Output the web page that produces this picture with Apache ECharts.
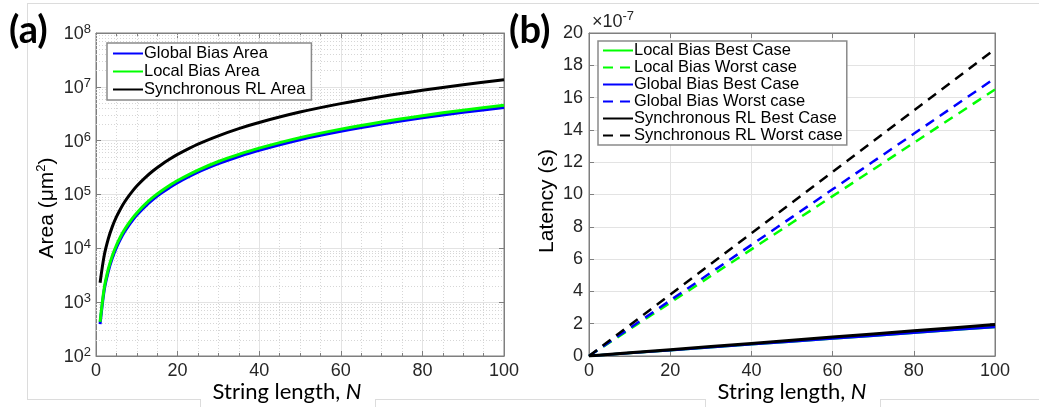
<!DOCTYPE html>
<html>
<head>
<meta charset="utf-8">
<script src="https://cdn.jsdelivr.net/npm/echarts@6/dist/echarts.min.js"></script>
<style>
html,body{margin:0;padding:0;background:#fff;}
#c{width:1039px;height:407px;}
</style>
</head>
<body>
<div id="c"></div>
<script>
// ---------- Panel (a): Area vs string length (log scale) ----------
const areaN = [1,2,3,4,5,6,7,8,9,10,12,14,16,18,20,25,30,35,40,50,60,70,80,90,100];
const globalBiasArea = [390,1650,3700,6600,10300,14900,20300,26500,33600,41500,59700,81300,106000,134000,166000,259000,373000,508000,664000,1040000,1490000,2030000,2660000,3360000,4150000];
const localBiasArea = [430,1800,4100,7300,11400,16400,22300,29100,36900,45500,65500,89200,116000,147000,182000,284000,410000,557000,728000,1140000,1640000,2230000,2910000,3690000,4550000];
const syncRLArea = [2300,7280,14900,25300,38300,54000,72400,93400,117000,144000,204000,276000,358000,451000,555000,861000,1230000,1675000,2180000,3400000,4880000,6630000,8650000,10940000,13500000];

// ---------- Panel (b): Latency (units of 1e-7 s) ----------
const latN = [0,10,20,30,40,50,60,70,80,90,100];
const localBest   = [0,0.18,0.36,0.54,0.72,0.90,1.08,1.26,1.44,1.62,1.80];
const localWorst  = [0,1.65,3.30,4.95,6.60,8.25,9.90,11.55,13.20,14.85,16.50];
const globalBest  = [0,0.18,0.36,0.54,0.72,0.90,1.08,1.26,1.44,1.62,1.80];
const globalWorst = [0,1.72,3.44,5.16,6.88,8.60,10.32,12.04,13.76,15.48,17.20];
const syncBest    = [0,0.195,0.39,0.585,0.78,0.975,1.17,1.365,1.56,1.755,1.95];
const syncWorst   = [0,1.90,3.80,5.70,7.60,9.50,11.40,13.30,15.20,17.10,19.00];

const legendA = ['Global Bias Area','Local Bias Area','Synchronous RL Area'];
const legendB = ['Local Bias Best Case','Local Bias Worst case','Global Bias Best Case','Global Bias Worst case','Synchronous RL Best Case','Synchronous RL Worst case'];

const zip = (xs, ys) => xs.map((x, i) => [x, ys[i]]);

// minor log grid values (2..9 x 10^k)
const minorLog = [];
for (let e = 2; e < 8; e++) for (let k = 2; k <= 9; k++) minorLog.push(k * Math.pow(10, e));

const TXT = '#262626';
const AX = '#7f7f7f';
const GRID = '#e3e3e3';
const SANS = 'Liberation Sans, Arial, sans-serif';
const TITLEF = 'Lato, Carlito, Calibri, sans-serif';

const chart = echarts.init(document.getElementById('c'), null, {renderer: 'canvas'});

function axisBase(extra) {
  return Object.assign({
    axisLine: {show: true, onZero: false, lineStyle: {color: AX, width: 1}},
    axisTick: {show: true, inside: true, length: 5, lineStyle: {color: AX}},
    axisLabel: {color: TXT, fontFamily: SANS, fontSize: 18},
  }, extra);
}

const option = {
  animation: false,
  backgroundColor: '#fff',
  grid: [
    {left: 96, top: 33, width: 408, height: 323, show: true, borderColor: AX, borderWidth: 1, backgroundColor: '#fff'},
    {left: 589, top: 33, width: 406, height: 323, show: true, borderColor: AX, borderWidth: 1, backgroundColor: '#fff'}
  ],
  xAxis: [
    axisBase({gridIndex: 0, type: 'value', min: 0, max: 100, interval: 20,
      axisLabel: {color: TXT, fontFamily: SANS, fontSize: 18, margin: 6},
      splitLine: {show: true, lineStyle: {color: GRID, width: 1}},
      minorTick: {show: true, splitNumber: 4, length: 3, lineStyle: {color: AX}},
      minorSplitLine: {show: true, lineStyle: {color: '#d6d6d6', type: [1, 2], width: 1}}}),
    axisBase({gridIndex: 1, type: 'value', min: 0, max: 100, interval: 20,
      axisLabel: {color: TXT, fontFamily: SANS, fontSize: 18, margin: 6},
      splitLine: {show: true, lineStyle: {color: GRID, width: 1}}}),
    axisBase({gridIndex: 0, type: 'value', position: 'top', min: 0, max: 100, interval: 20,
      axisLabel: {show: false}, splitLine: {show: false},
      minorTick: {show: true, splitNumber: 4, length: 3, lineStyle: {color: AX}}}),
    axisBase({gridIndex: 1, type: 'value', position: 'top', min: 0, max: 100, interval: 20,
      axisLabel: {show: false}, splitLine: {show: false}})
  ],
  yAxis: [
    axisBase({gridIndex: 0, type: 'log', logBase: 10, min: 100, max: 1e8, splitNumber: 6, interval: 1,
      axisLabel: {
        margin: 5,
        formatter: v => '{b|10}{s|' + Math.round(Math.log10(v)) + '}',
        rich: {
          b: {fontFamily: SANS, fontSize: 18, color: TXT, verticalAlign: 'bottom', lineHeight: 20},
          s: {fontFamily: SANS, fontSize: 13, color: TXT, verticalAlign: 'top', lineHeight: 20, padding: [0, 0, 10, 0]}
        }
      },
      splitLine: {show: true, lineStyle: {color: GRID, width: 1}}}),
    axisBase({gridIndex: 1, type: 'value', min: 0, max: 20, interval: 2,
      axisLabel: {color: TXT, fontFamily: SANS, fontSize: 18, margin: 6},
      splitLine: {show: true, lineStyle: {color: GRID, width: 1}}}),
    axisBase({gridIndex: 0, type: 'log', logBase: 10, min: 100, max: 1e8, splitNumber: 6, interval: 1, position: 'right',
      axisLabel: {show: false}, splitLine: {show: false}}),
    axisBase({gridIndex: 1, type: 'value', min: 0, max: 20, interval: 2, position: 'right',
      axisLabel: {show: false}, splitLine: {show: false}})
  ],
  legend: [
    {data: legendA, orient: 'vertical', left: 107, top: 43, itemWidth: 30, itemHeight: 14, itemGap: 1, z: 10,
      backgroundColor: '#fff', borderColor: '#8a8a8a', borderWidth: 1.5, borderRadius: 0, padding: [2, 6, 2, 5],
      textStyle: {fontFamily: SANS, fontSize: 16.5, lineHeight: 16, color: '#000', padding: [0, 0, 0, -4]}, itemStyle: {opacity: 0}},
    {data: legendB, orient: 'vertical', left: 598, top: 41, itemWidth: 30, itemHeight: 14, itemGap: 0, z: 10,
      backgroundColor: '#fff', borderColor: '#8a8a8a', borderWidth: 1.5, borderRadius: 0, padding: [1, 4, 1, 4],
      textStyle: {fontFamily: SANS, fontSize: 16.5, lineHeight: 16, color: '#000', padding: [0, 0, 0, -4]}, itemStyle: {opacity: 0}}
  ],
  series: [
    {name: 'minorgrid', type: 'line', xAxisIndex: 0, yAxisIndex: 0, data: [], z: 1, silent: true,
      markLine: {silent: true, z: 1, symbol: 'none', label: {show: false}, animation: false,
        emphasis: {disabled: true},
        lineStyle: {color: '#d6d6d6', type: [1, 2], width: 1},
        data: minorLog.map(v => ({yAxis: v}))}},
    {name: legendA[0], type: 'line', xAxisIndex: 0, yAxisIndex: 0, data: zip(areaN, globalBiasArea), symbol: 'none', smooth: 0.3,
      lineStyle: {color: '#0000ff', width: 3}, itemStyle: {color: '#0000ff'}},
    {name: legendA[1], type: 'line', xAxisIndex: 0, yAxisIndex: 0, data: zip(areaN, localBiasArea), symbol: 'none', smooth: 0.3,
      lineStyle: {color: '#00ff00', width: 3}, itemStyle: {color: '#00ff00'}},
    {name: legendA[2], type: 'line', xAxisIndex: 0, yAxisIndex: 0, data: zip(areaN, syncRLArea), symbol: 'none', smooth: 0.3,
      lineStyle: {color: '#000000', width: 3}, itemStyle: {color: '#000000'}},

    {name: legendB[0], type: 'line', xAxisIndex: 1, yAxisIndex: 1, data: zip(latN, localBest), symbol: 'none',
      lineStyle: {color: '#00ff00', width: 2.5}, itemStyle: {color: '#00ff00'}},
    {name: legendB[1], type: 'line', xAxisIndex: 1, yAxisIndex: 1, data: zip(latN, localWorst), symbol: 'none',
      lineStyle: {color: '#00ff00', width: 2.5, type: [10, 7]}, itemStyle: {color: '#00ff00'}},
    {name: legendB[2], type: 'line', xAxisIndex: 1, yAxisIndex: 1, data: zip(latN, globalBest), symbol: 'none',
      lineStyle: {color: '#0000ff', width: 2.5}, itemStyle: {color: '#0000ff'}},
    {name: legendB[3], type: 'line', xAxisIndex: 1, yAxisIndex: 1, data: zip(latN, globalWorst), symbol: 'none',
      lineStyle: {color: '#0000ff', width: 2.5, type: [10, 7]}, itemStyle: {color: '#0000ff'}},
    {name: legendB[4], type: 'line', xAxisIndex: 1, yAxisIndex: 1, data: zip(latN, syncBest), symbol: 'none',
      lineStyle: {color: '#000000', width: 3}, itemStyle: {color: '#000000'}},
    {name: legendB[5], type: 'line', xAxisIndex: 1, yAxisIndex: 1, data: zip(latN, syncWorst), symbol: 'none',
      lineStyle: {color: '#000000', width: 2.5, type: [10, 7]}, itemStyle: {color: '#000000'}}
  ],
  graphic: [
    // faint frame lines around the panels
    {type: 'line', shape: {x1: 27, y1: 3.5, x2: 1039, y2: 3.5}, style: {stroke: '#dcdcdc', lineWidth: 1}, silent: true},
    {type: 'line', shape: {x1: 27.5, y1: 3, x2: 27.5, y2: 399}, style: {stroke: '#dcdcdc', lineWidth: 1}, silent: true},
    {type: 'line', shape: {x1: 27, y1: 399.5, x2: 200, y2: 399.5}, style: {stroke: '#dcdcdc', lineWidth: 1}, silent: true},
    {type: 'line', shape: {x1: 375, y1: 399.5, x2: 705, y2: 399.5}, style: {stroke: '#dcdcdc', lineWidth: 1}, silent: true},
    {type: 'line', shape: {x1: 880, y1: 399.5, x2: 1039, y2: 399.5}, style: {stroke: '#dcdcdc', lineWidth: 1}, silent: true},
    {type: 'line', shape: {x1: 200.5, y1: 399, x2: 200.5, y2: 407}, style: {stroke: '#dcdcdc', lineWidth: 1}, silent: true},
    {type: 'line', shape: {x1: 375.5, y1: 399, x2: 375.5, y2: 407}, style: {stroke: '#dcdcdc', lineWidth: 1}, silent: true},
    {type: 'line', shape: {x1: 705.5, y1: 399, x2: 705.5, y2: 407}, style: {stroke: '#dcdcdc', lineWidth: 1}, silent: true},
    {type: 'line', shape: {x1: 880.5, y1: 399, x2: 880.5, y2: 407}, style: {stroke: '#dcdcdc', lineWidth: 1}, silent: true},
    // panel labels
    {type: 'text', left: 9, top: 12, style: {text: '(a)', font: 'bold 38px ' + TITLEF, fill: '#000'}},
    {type: 'text', left: 509, top: 12, style: {text: '(b)', font: 'bold 38px ' + TITLEF, fill: '#000'}},
    // axis titles
    {type: 'text', x: 287, y: 392, style: {text: 'String length, {i|N}', font: '22px ' + TITLEF, fill: '#000', align: 'center', verticalAlign: 'middle',
      rich: {i: {font: 'italic 22px ' + TITLEF, fill: '#000'}}}},
    {type: 'text', x: 792, y: 392, style: {text: 'String length, {i|N}', font: '22px ' + TITLEF, fill: '#000', align: 'center', verticalAlign: 'middle',
      rich: {i: {font: 'italic 22px ' + TITLEF, fill: '#000'}}}},
    {type: 'text', x: 47, y: 208, rotation: Math.PI / 2, style: {text: 'Area (μm{s|2})', font: '21px ' + SANS, fill: '#000', align: 'center', verticalAlign: 'middle',
      rich: {s: {font: '13px ' + SANS, fill: '#000', padding: [0, 0, 12, 0]}}}},
    {type: 'text', x: 547, y: 201, rotation: Math.PI / 2, style: {text: 'Latency (s)', font: '21px ' + SANS, fill: '#000', align: 'center', verticalAlign: 'middle'}},
    {type: 'text', x: 592, y: 22, style: {text: '×10{s|-7}', font: '18px ' + SANS, fill: TXT, verticalAlign: 'middle',
      rich: {s: {font: '13px ' + SANS, fill: TXT, padding: [0, 0, 11, 0]}}}}
  ]
};
chart.setOption(option);
</script>
</body>
</html>
